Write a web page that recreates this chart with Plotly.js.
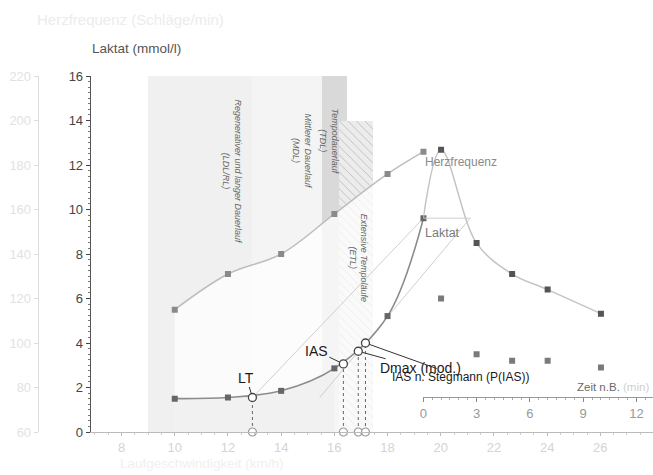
<!DOCTYPE html>
<html><head><meta charset="utf-8">
<script src="https://cdn.plot.ly/plotly-3.0.1.min.js"></script>
<style>html,body{margin:0;padding:0;background:#fff}#c{width:653px;height:475px}</style>
</head><body><div id="c"></div>
<script>
// ---- data ----
const speed = [10, 12, 14, 16, 18, 19.35];            // km/h
const hr = [115, 131, 140, 158, 176, 186];              // bpm
const lactate = [1.5, 1.55, 1.85, 2.86, 5.21, 9.61];     // mmol/l
const recTime = [0, 1, 3, 5, 7, 10];                    // min after exercise
const recLactate = [9.61, 12.69, 8.49, 7.1, 6.4, 5.32];
const recHrTime = [1, 3, 5, 7, 10];
const recHr = [120, 95, 92, 92, 89];
const thrNames = ['LT', 'IAS', 'Dmax (mod.)', 'IAS n. Stegmann (P(IAS))'];
const thrSpeed = [12.92, 16.34, 16.9, 17.17];
const thrLactate = [1.55, 3.06, 3.63, 4.0];
const zoneNames = ['Regenerativer und langer Dauerlauf<br>(LDL/RL)', 'Mittlerer Dauerlauf<br>(MDL)', 'Tempodauerlauf<br>(TDL)', 'Extensive Tempoläufe<br>(ETL)'];
const zoneStart = [9.0, 12.9, 15.53, 16.17];
const zoneEnd = [12.9, 15.53, 16.49, 17.46];
const zoneTopHr = [220, 220, 220, 200];
const stegTime = 2.645;          // recovery time where lactate equals end value
const stegTangentStart = [21.11, 9.61];
const stegTangentEnd = [15.45, 1.55];
const speedTicks = [8, 10, 12, 14, 16, 18, 20, 22, 24, 26];
const timeTicks = [0, 3, 6, 9, 12];

// ---- helpers for layout positions (pixels -> paper) ----
const W = 653, T = 76, B = 43, H = 475;
const px = x => x / W;
const py = y => (H - B - y) / (H - T - B);
const FONT = 'Liberation Sans, Arial, sans-serif';

const zoneColors = ['#f0f0f0', '#f4f4f4', '#d9d9d9', '#ececec'];
const traces = [];
// zones as bars (on HR axis 'y')
zoneNames.forEach((n, i) => {
  traces.push({
    type: 'bar', x: [(zoneStart[i] + zoneEnd[i]) / 2], y: [zoneTopHr[i] - 60], base: [60],
    width: [zoneEnd[i] - zoneStart[i]], xaxis: 'x', yaxis: 'y',
    marker: {color: zoneColors[i], line: {width: 0},
      pattern: i === 3 ? {shape: '\\', fgcolor: '#bdbdbd', bgcolor: zoneColors[i], size: 6, solidity: 0.15} : undefined},
    hoverinfo: 'skip', showlegend: false
  });
});
// light veil below HR curve
traces.push({x: speed, y: hr, xaxis: 'x', yaxis: 'y', mode: 'none', fill: 'tozeroy',
  fillcolor: 'rgba(255,255,255,0.72)', line: {shape: 'spline'}, hoverinfo: 'skip', showlegend: false});
// HR curve (exercise)
traces.push({x: speed, y: hr, xaxis: 'x', yaxis: 'y', mode: 'lines+markers',
  line: {shape: 'spline', color: '#bdbdbd', width: 1.5},
  marker: {symbol: 'square', size: 6, color: '#8a8a8a'}, showlegend: false});
// HR recovery
traces.push({x: recHrTime, y: recHr, xaxis: 'x2', yaxis: 'y', mode: 'markers',
  marker: {symbol: 'square', size: 6, color: '#7a7a7a'}, showlegend: false});
// zone shade restored below lactate (first part of curve)
traces.push({x: speed.slice(0, 4), y: lactate.slice(0, 4), xaxis: 'x', yaxis: 'y2', mode: 'none', fill: 'tozeroy',
  fillcolor: '#f1f1f1', line: {shape: 'spline'}, hoverinfo: 'skip', showlegend: false});
// Dmax line
traces.push({x: [thrSpeed[0], speed[speed.length - 1]], y: [thrLactate[0], lactate[lactate.length - 1]],
  xaxis: 'x', yaxis: 'y2', mode: 'lines', line: {color: '#cfcfcf', width: 1}, showlegend: false});
// Stegmann tangent
traces.push({x: [stegTangentStart[0], stegTangentEnd[0]], y: [stegTangentStart[1], stegTangentEnd[1]],
  xaxis: 'x', yaxis: 'y2', mode: 'lines', line: {color: '#cfcfcf', width: 1}, showlegend: false});
// lactate curve (exercise)
traces.push({x: speed, y: lactate, xaxis: 'x', yaxis: 'y2', mode: 'lines+markers',
  line: {shape: 'spline', color: '#8c8c8c', width: 1.6},
  marker: {symbol: 'square', size: 6, color: '#666'}, showlegend: false});
// threshold drop lines
const dx = [], dy = [];
thrSpeed.forEach((s, i) => { dx.push(s, s, null); dy.push(0, thrLactate[i], null); });
traces.push({x: dx, y: dy, xaxis: 'x', yaxis: 'y2', mode: 'lines',
  line: {color: '#666', width: 1, dash: 'dot'}, showlegend: false});
// threshold markers
traces.push({x: thrSpeed, y: thrLactate, xaxis: 'x', yaxis: 'y2', mode: 'markers',
  marker: {symbol: 'circle', size: 8, color: '#fff', line: {color: '#444', width: 1.3}}, showlegend: false});
traces.push({x: thrSpeed, y: thrSpeed.map(() => 0), xaxis: 'x', yaxis: 'y2', mode: 'markers', cliponaxis: false,
  marker: {symbol: 'circle', size: 8, color: '#fff', line: {color: '#999', width: 1.2}}, showlegend: false});
// Stegmann horizontal + lactate recovery
traces.push({x: [0, stegTime], y: [recLactate[0], recLactate[0]], xaxis: 'x2', yaxis: 'y2',
  mode: 'lines', line: {color: '#cfcfcf', width: 1}, showlegend: false});
traces.push({x: recTime, y: recLactate, xaxis: 'x2', yaxis: 'y2', mode: 'lines',
  line: {shape: 'spline', color: '#c4c4c4', width: 1.5}, showlegend: false});
traces.push({x: recTime.slice(1), y: recLactate.slice(1), xaxis: 'x2', yaxis: 'y2', mode: 'markers',
  marker: {symbol: 'square', size: 6, color: '#555'}, showlegend: false});

const ann = [];
const P = (x, y, text, font, extra) => Object.assign({xref: 'paper', yref: 'paper', x: px(x), y: py(y), text,
  showarrow: false, xanchor: 'center', yanchor: 'middle', font}, extra || {});
// zone labels
const zoneLabelPos = [[231.5, 172], [301.5, 151], [328.5, 141], [358.3, 258]];
zoneNames.forEach((n, i) => ann.push(P(zoneLabelPos[i][0], zoneLabelPos[i][1], '<i>' + n + '</i>',
  {family: FONT, size: 9, color: '#666'}, {textangle: 90})));
// threshold labels
const thrOff = [[-6, -20], [-27, -13], [62, 17], [95, 34]];
const thrFont = [14, 14, 14, 12];
thrNames.forEach((n, i) => ann.push({x: thrSpeed[i], y: thrLactate[i], xref: 'x', yref: 'y2', text: n,
  showarrow: true, arrowhead: 0, arrowwidth: 1, arrowcolor: '#333', ax: thrOff[i][0], ay: thrOff[i][1],
  standoff: 4, font: {family: FONT, size: thrFont[i], color: '#1a1a1a'}}));
ann.push(P(461, 162, 'Herzfrequenz', {family: FONT, size: 12, color: '#8a8a8a'}));
ann.push(P(442.5, 233, 'Laktat', {family: FONT, size: 12.5, color: '#7a7a7a'}));
ann.push(P(651, 387, 'Zeit n.B. <span style="color:#d0d0d0">(min)</span>', {family: FONT, size: 11.5, color: '#6a6a6a'}, {xanchor: 'right'}));
ann.push(P(90, 48, 'Laktat (mmol/l)', {family: FONT, size: 13.5, color: '#555'}, {xanchor: 'left'}));
ann.push(P(35, 19, 'Herzfrequenz (Schläge/min)', {family: FONT, size: 15, color: '#ececec'}, {xanchor: 'left'}));
ann.push(P(118, 463, 'Laufgeschwindigkeit (km/h)', {family: FONT, size: 13.5, color: '#f0f0f0'}, {xanchor: 'left'}));

const layout = {
  width: W, height: H, margin: {l: 0, r: 0, t: T, b: B},
  paper_bgcolor: '#fff', plot_bgcolor: 'rgba(0,0,0,0)',
  font: {family: FONT}, showlegend: false, barmode: 'overlay', bargap: 0,
  xaxis: {domain: [px(90.7), 1], range: [6.84, 27.98], tickvals: speedTicks, ticks: 'outside', ticklen: 3,
    tickcolor: '#bbb', showline: true, linecolor: '#bbb', showgrid: false, zeroline: false,
    tickfont: {size: 13, color: '#d4d4d4'}, minor: {dtick: 0.5, ticks: 'outside', ticklen: 2, tickcolor: '#ccc'}},
  xaxis2: {domain: [px(423.3), 1], range: [0, 12.93], anchor: 'free', position: py(397), tickvals: timeTicks,
    ticks: 'outside', ticklen: 4, tickcolor: '#888', showline: true, linecolor: '#999', showgrid: false, zeroline: false,
    tickfont: {size: 13, color: '#999'}, minor: {dtick: 0.5, ticks: 'outside', ticklen: 2, tickcolor: '#aaa'}},
  yaxis: {range: [60, 220], dtick: 20, anchor: 'free', position: px(37.7), side: 'left',
    ticks: 'outside', ticklen: 4, tickcolor: '#ddd', showline: true, linecolor: '#ddd', showgrid: false, zeroline: false,
    tickfont: {size: 13, color: '#e2e2e2'}},
  yaxis2: {range: [0, 16], dtick: 2, overlaying: 'y', anchor: 'x', side: 'left', ticks: 'outside', ticklen: 4,
    tickcolor: '#444', showline: true, linecolor: '#555', showgrid: false, zeroline: false,
    tickfont: {size: 13, color: '#444'}, minor: {dtick: 0.25, ticks: 'outside', ticklen: 2, tickcolor: '#777'}},
  annotations: ann
};
Plotly.newPlot('c', traces, layout, {staticPlot: true});
</script></body></html>
